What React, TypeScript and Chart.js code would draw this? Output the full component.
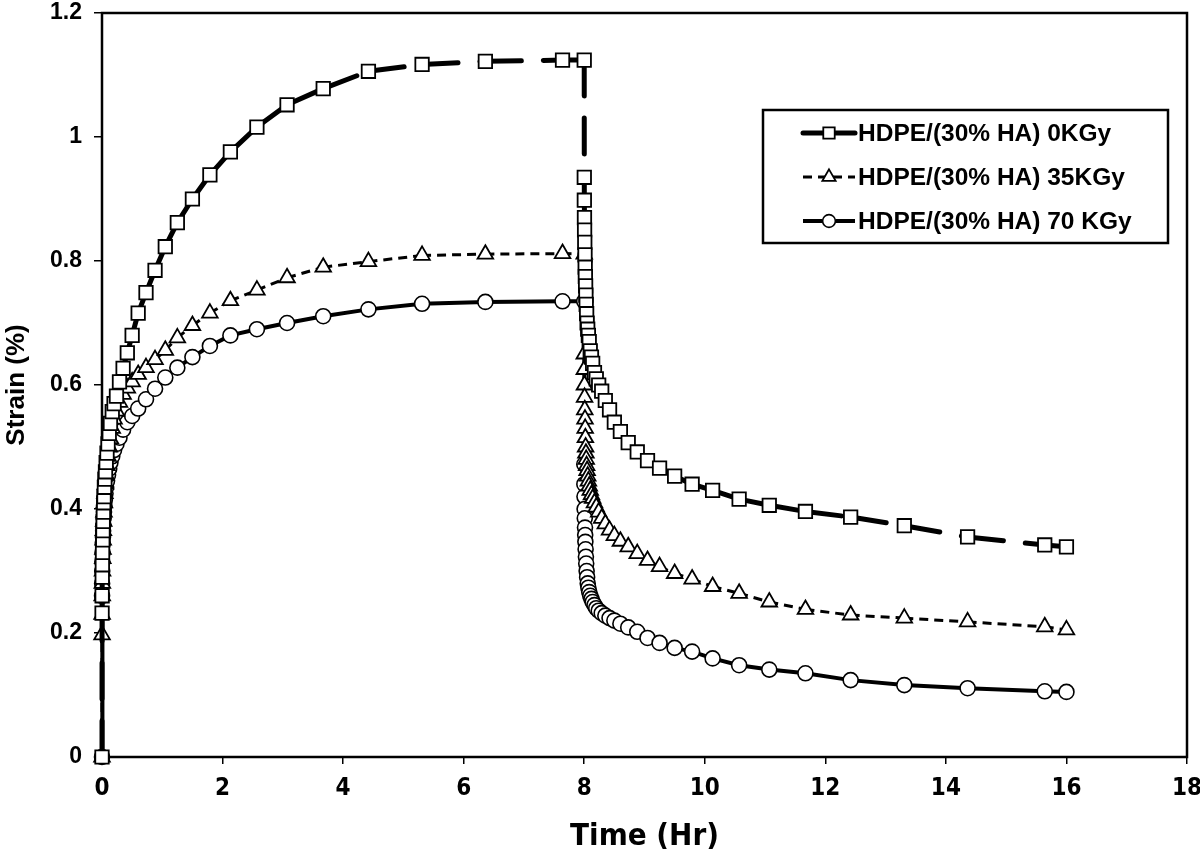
import React, { useEffect, useRef } from 'react';
import { Chart, registerables } from 'chart.js';

Chart.register(...registerables);

// ---- data (time in hours, strain in %) ----
const loadTime = [0, 0.001, 0.002, 0.004, 0.006, 0.009, 0.013, 0.016, 0.019, 0.023, 0.028, 0.033, 0.04, 0.048, 0.058, 0.069, 0.083, 0.1, 0.12, 0.14, 0.17, 0.2, 0.24, 0.29, 0.35, 0.42, 0.5, 0.6, 0.73, 0.88, 1.05, 1.25, 1.5, 1.79, 2.13, 2.57, 3.07, 3.67, 4.42, 5.31, 6.36, 7.64, 8.0];
const recoveryTime = [8.001, 8.002, 8.004, 8.006, 8.009, 8.013, 8.016, 8.019, 8.023, 8.028, 8.033, 8.04, 8.048, 8.058, 8.069, 8.083, 8.1, 8.12, 8.14, 8.17, 8.2, 8.24, 8.29, 8.35, 8.42, 8.5, 8.6, 8.73, 8.88, 9.05, 9.25, 9.5, 9.79, 10.13, 10.57, 11.07, 11.67, 12.42, 13.31, 14.36, 15.64, 16.0];

const strain0Load = [0, 0.232, 0.26, 0.29, 0.31, 0.33, 0.35, 0.365, 0.38, 0.395, 0.41, 0.42, 0.435, 0.448, 0.46, 0.475, 0.49, 0.505, 0.522, 0.538, 0.557, 0.57, 0.582, 0.605, 0.627, 0.652, 0.68, 0.716, 0.749, 0.785, 0.823, 0.862, 0.9, 0.939, 0.976, 1.016, 1.052, 1.078, 1.106, 1.117, 1.122, 1.124, 1.124];
const strain0Recovery = [0.935, 0.898, 0.87, 0.85, 0.83, 0.81, 0.79, 0.775, 0.76, 0.745, 0.73, 0.715, 0.7, 0.69, 0.68, 0.67, 0.655, 0.645, 0.635, 0.62, 0.61, 0.6, 0.59, 0.575, 0.56, 0.54, 0.525, 0.507, 0.492, 0.478, 0.466, 0.453, 0.44, 0.43, 0.416, 0.406, 0.396, 0.387, 0.373, 0.355, 0.342, 0.339];

const strain35Load = [0, 0.197, 0.23, 0.26, 0.28, 0.3, 0.32, 0.335, 0.35, 0.365, 0.38, 0.395, 0.41, 0.425, 0.44, 0.455, 0.47, 0.485, 0.5, 0.513, 0.53, 0.545, 0.558, 0.572, 0.585, 0.595, 0.605, 0.617, 0.628, 0.641, 0.656, 0.676, 0.696, 0.716, 0.736, 0.753, 0.773, 0.79, 0.799, 0.809, 0.811, 0.812, 0.811];
const strain35Recovery = [0.65, 0.625, 0.6, 0.58, 0.56, 0.545, 0.53, 0.515, 0.5, 0.49, 0.48, 0.47, 0.462, 0.453, 0.445, 0.437, 0.43, 0.423, 0.417, 0.41, 0.403, 0.395, 0.385, 0.376, 0.366, 0.357, 0.348, 0.339, 0.328, 0.317, 0.307, 0.296, 0.287, 0.275, 0.264, 0.25, 0.238, 0.229, 0.224, 0.218, 0.21, 0.205];

const strain70Load = [0, 0.26, 0.28, 0.3, 0.315, 0.33, 0.345, 0.355, 0.365, 0.375, 0.385, 0.395, 0.405, 0.415, 0.425, 0.435, 0.445, 0.455, 0.465, 0.475, 0.485, 0.495, 0.505, 0.515, 0.528, 0.54, 0.55, 0.562, 0.577, 0.594, 0.612, 0.628, 0.645, 0.663, 0.68, 0.69, 0.7, 0.711, 0.722, 0.731, 0.734, 0.735, 0.735];
const strain70Recovery = [0.472, 0.44, 0.42, 0.4, 0.385, 0.37, 0.358, 0.347, 0.335, 0.323, 0.312, 0.3, 0.29, 0.28, 0.273, 0.266, 0.26, 0.255, 0.25, 0.245, 0.24, 0.236, 0.232, 0.228, 0.224, 0.22, 0.215, 0.209, 0.202, 0.192, 0.184, 0.176, 0.17, 0.159, 0.148, 0.141, 0.135, 0.124, 0.116, 0.111, 0.106, 0.105];

const seriesLabels = ['HDPE/(30% HA) 0KGy', 'HDPE/(30% HA) 35KGy', 'HDPE/(30% HA) 70 KGy'];
const xTickLabels = ['0', '2', '4', '6', '8', '10', '12', '14', '16', '18'];
const yTickLabels = ['0', '0.2', '0.4', '0.6', '0.8', '1', '1.2'];
const xTitle = 'Time (Hr)';
const yTitle = 'Strain (%)';

const allTime = [...loadTime, ...recoveryTime];
const toPoints = (load: number[], rec: number[]) =>
  [...load, ...rec].map((v, i) => ({ x: allTime[i], y: v }));

const BOLD_FONT = 'Arial, "Liberation Sans", sans-serif';
const NARROW_FONT = '"Liberation Sans Narrow", "DejaVu Sans Condensed", "Liberation Sans", sans-serif';

function drawMarker(ctx: CanvasRenderingContext2D, style: string, x: number, y: number, r: number) {
  ctx.beginPath();
  if (style === 'rect') {
    const s = Math.SQRT1_2 * r;
    ctx.rect(x - s, y - s, 2 * s, 2 * s);
  } else if (style === 'triangle') {
    let rad = 0;
    ctx.moveTo(x + Math.sin(rad) * r, y - Math.cos(rad) * r);
    rad += (2 * Math.PI) / 3;
    ctx.lineTo(x + Math.sin(rad) * r, y - Math.cos(rad) * r);
    rad += (2 * Math.PI) / 3;
    ctx.lineTo(x + Math.sin(rad) * r, y - Math.cos(rad) * r);
    ctx.closePath();
  } else {
    ctx.arc(x, y, r, 0, Math.PI * 2);
  }
  ctx.fill();
  ctx.stroke();
}

const framePlugin = {
  id: 'frame',
  beforeDatasetsDraw(chart: any) {
    const { ctx, chartArea } = chart;
    ctx.save();
    ctx.strokeStyle = '#000';
    ctx.lineWidth = 2.5;
    ctx.strokeRect(chartArea.left, chartArea.top, chartArea.right - chartArea.left, chartArea.bottom - chartArea.top);
    ctx.restore();
  },
};

const legendPlugin = {
  id: 'boxLegend',
  afterDraw(chart: any) {
    const { ctx, chartArea } = chart;
    const boxRight = chartArea.right - 19;
    const boxLeft = boxRight - 405;
    const boxTop = chartArea.top + 97;
    const boxH = 133;
    ctx.save();
    ctx.fillStyle = '#fff';
    ctx.fillRect(boxLeft, boxTop, boxRight - boxLeft, boxH);
    ctx.strokeStyle = '#000';
    ctx.lineWidth = 2.5;
    ctx.strokeRect(boxLeft, boxTop, boxRight - boxLeft, boxH);
    chart.data.datasets.forEach((ds: any, i: number) => {
      const y = boxTop + 23 + i * 44;
      const x0 = boxLeft + 40;
      const x1 = boxLeft + 92;
      const xm = (x0 + x1) / 2;
      ctx.strokeStyle = '#000';
      ctx.lineWidth = ds.borderWidth;
      ctx.lineCap = i === 0 ? 'round' : 'butt';
      ctx.setLineDash(i === 1 ? ds.borderDash : []);
      ctx.beginPath();
      ctx.moveTo(x0, y);
      ctx.lineTo(x1, y);
      ctx.stroke();
      ctx.setLineDash([]);
      ctx.fillStyle = '#fff';
      ctx.lineWidth = ds.pointBorderWidth;
      drawMarker(ctx, ds.pointStyle, xm, y, ds.pointRadius * 0.85);
      ctx.fillStyle = '#000';
      ctx.font = `bold 24.5px ${BOLD_FONT}`;
      ctx.textBaseline = 'middle';
      ctx.textAlign = 'left';
      ctx.fillText(ds.label, boxLeft + 95, y + 1);
    });
    ctx.restore();
  },
};

const altSegment = {
  borderDashOffset: (c: any) => (c.p0DataIndex % 2 ? 0.01 : 0),
};

const zeroPadding = (s: any) => {
  s.paddingTop = 0;
  s.paddingBottom = 0;
  s.paddingLeft = 0;
  s.paddingRight = 0;
};

export default function App() {
  const canvasRef = useRef<HTMLCanvasElement | null>(null);

  useEffect(() => {
    if (!canvasRef.current) return;
    const chart = new Chart(canvasRef.current, {
      type: 'line',
      data: {
        datasets: [
          {
            label: seriesLabels[0],
            data: toPoints(strain0Load, strain0Recovery),
            borderColor: '#000',
            borderWidth: 5,
            borderDash: [36, 22],
            borderCapStyle: 'round',
            segment: altSegment,
            pointStyle: 'rect',
            pointRadius: 9.5,
            pointBackgroundColor: '#fff',
            pointBorderColor: '#000',
            pointBorderWidth: 1.8,
            tension: 0,
            clip: false,
          } as any,
          {
            label: seriesLabels[1],
            data: toPoints(strain35Load, strain35Recovery),
            borderColor: '#000',
            borderWidth: 3,
            borderDash: [9, 6],
            segment: altSegment,
            pointStyle: 'triangle',
            pointRadius: 9,
            pointBackgroundColor: '#fff',
            pointBorderColor: '#000',
            pointBorderWidth: 1.8,
            tension: 0,
            clip: false,
          } as any,
          {
            label: seriesLabels[2],
            data: toPoints(strain70Load, strain70Recovery),
            borderColor: '#000',
            borderWidth: 4,
            pointStyle: 'circle',
            pointRadius: 7.5,
            pointBackgroundColor: '#fff',
            pointBorderColor: '#000',
            pointBorderWidth: 1.6,
            tension: 0,
            clip: false,
          } as any,
        ],
      },
      options: {
        responsive: false,
        animation: false,
        events: [],
        layout: { padding: { top: 13, right: 13, left: 0, bottom: 0 } },
        plugins: { legend: { display: false }, tooltip: { enabled: false } },
        scales: {
          x: {
            type: 'linear',
            min: 0,
            max: 18,
            afterFit: (s: any) => { s.height = 102; zeroPadding(s); },
            afterBuildTicks: (s: any) => {
              s.ticks = xTickLabels.map((_, i) => ({ value: i * 2 }));
            },
            ticks: {
              color: '#000',
              font: { family: NARROW_FONT, weight: 'bold', size: 24 },
              padding: 10,
              maxRotation: 0,
              autoSkip: false,
              callback: (_v: any, i: number) => xTickLabels[i],
            },
            grid: { display: true, drawOnChartArea: false, drawTicks: true, tickLength: 7, color: '#000', lineWidth: 1.5 },
            border: { display: false },
            title: {
              display: true,
              text: xTitle,
              color: '#000',
              font: { family: NARROW_FONT, weight: 'bold', size: 31 },
              padding: { top: 0, bottom: 3 },
            },
          },
          y: {
            type: 'linear',
            min: 0,
            max: 1.2,
            afterFit: (s: any) => { s.width = 102; zeroPadding(s); },
            afterBuildTicks: (s: any) => {
              s.ticks = yTickLabels.map((_, i) => ({ value: i * 0.2 }));
            },
            ticks: {
              color: '#000',
              font: { family: BOLD_FONT, weight: 'bold', size: 23 },
              padding: 12,
              autoSkip: false,
              callback: (_v: any, i: number) => yTickLabels[i],
            },
            grid: { display: true, drawOnChartArea: false, drawTicks: true, tickLength: 8, color: '#000', lineWidth: 1.5 },
            border: { display: false },
            title: {
              display: true,
              text: yTitle,
              color: '#000',
              font: { family: BOLD_FONT, weight: 'bold', size: 26 },
              padding: { top: 1, bottom: 0 },
            },
          },
        },
      } as any,
      plugins: [framePlugin, legendPlugin],
    });
    return () => chart.destroy();
  }, []);

  return (
    <div style={{ position: 'absolute', left: 0, top: 0, width: 1200, height: 859, background: '#fff' }}>
      <canvas ref={canvasRef} width={1200} height={859} />
    </div>
  );
}
